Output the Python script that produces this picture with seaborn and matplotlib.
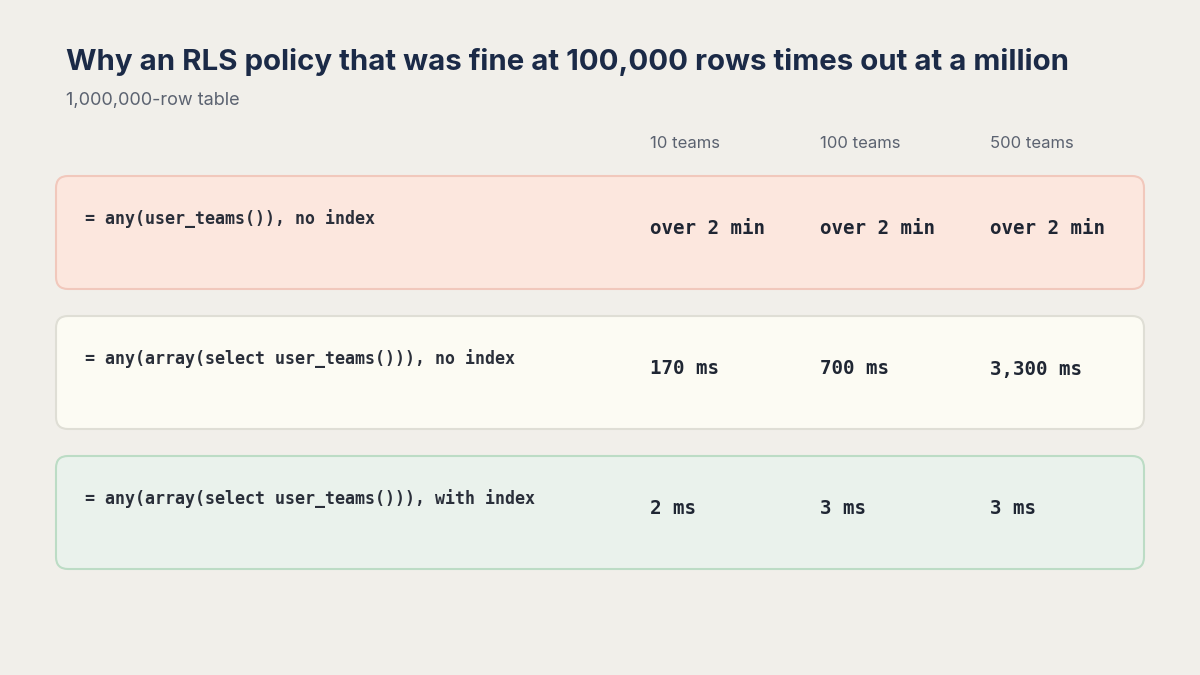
import matplotlib
matplotlib.use("Agg")
import matplotlib.pyplot as plt
from matplotlib.patches import FancyBboxPatch
import seaborn as sns

title = "Why an RLS policy that was fine at 100,000 rows times out at a million"
subtitle = "1,000,000-row table"
columns = ["10 teams", "100 teams", "500 teams"]
policies = ["= any(user_teams()), no index",
            "= any(array(select user_teams())), no index",
            "= any(array(select user_teams())), with index"]
values = [["over 2 min", "over 2 min", "over 2 min"],
          ["170 ms", "700 ms", "3,300 ms"],
          ["2 ms", "3 ms", "3 ms"]]
fills = ["#fce7de", "#fcfbf3", "#eaf2ec"]
edges = ["#f1c8bc", "#dfded5", "#bcdcc5"]

sns.set_theme(style="white")
bg = "#f1efea"
fig = plt.figure(figsize=(12, 6.75), dpi=100, facecolor=bg)
ax = fig.add_axes([0, 0, 1, 1])
ax.set_xlim(0, 1200); ax.set_ylim(675, 0); ax.axis("off")
ax.set_facecolor(bg)

ax.text(66, 62, title, fontsize=21.2, fontweight="bold", color="#1b2a47",
        family="Inter", va="center", ha="left")
ax.text(66, 101, subtitle, fontsize=13, color="#5b6270", family="Inter",
        va="center", ha="left")
col_x = [650, 820, 990]
for x, c in zip(col_x, columns):
    ax.text(x, 144, c, fontsize=12, color="#5b6270", family="Inter",
            va="center", ha="left")

tops = [175, 315, 455]
for i, (p, vals) in enumerate(zip(policies, values)):
    t = tops[i]
    ax.add_patch(FancyBboxPatch((56, t + 1), 1088, 113,
                                boxstyle="round,pad=0,rounding_size=12",
                                fc=fills[i], ec=edges[i], lw=1.5))
    ax.text(85, t + 44, p, fontsize=12, fontweight="bold", color="#2a2f3a",
            family="DejaVu Sans Mono", va="center", ha="left")
    for x, v in zip(col_x, vals):
        ax.text(x, t + 54, v, fontsize=13.8, fontweight="bold", color="#1f2633",
                family="DejaVu Sans Mono", va="center", ha="left")

fig.savefig("out.png", dpi=100, facecolor=bg)
